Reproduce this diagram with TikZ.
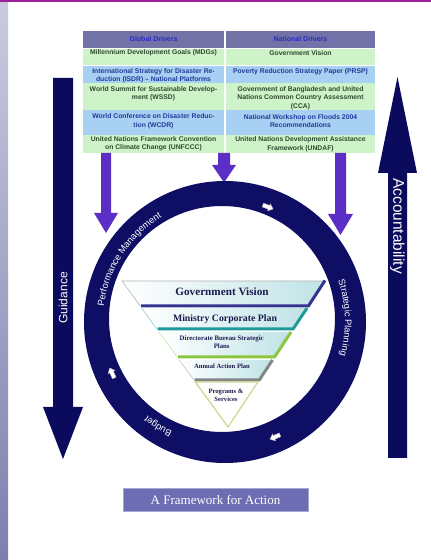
\documentclass[tikz,border=0pt]{standalone}
\usepackage{fontspec}
\setmainfont{Liberation Sans}
\newfontfamily\tnr{Liberation Serif}
\usetikzlibrary{decorations.text,calc}
\definecolor{navy}{HTML}{0B0B5E}
\definecolor{ringc}{HTML}{0E0E64}
\definecolor{drv}{HTML}{5B2FC6}
\definecolor{hdr}{HTML}{7272A6}
\definecolor{grn}{HTML}{CFF3C8}
\definecolor{blu}{HTML}{A8D0F2}
\definecolor{gtx}{HTML}{2E4A2E}
\definecolor{btx}{HTML}{1F3C99}
\definecolor{htx}{HTML}{2A2ACC}
\definecolor{lay1}{HTML}{34348F}
\definecolor{lay2}{HTML}{1E9A9A}
\definecolor{lay3}{HTML}{8CC63F}
\definecolor{lay4}{HTML}{858585}
\definecolor{lay5}{HTML}{C9D88C}
\definecolor{pyr}{HTML}{1B1B50}
\definecolor{fbox}{HTML}{6D6DB3}
\definecolor{topl}{HTML}{9C1F9C}
\definecolor{facel}{HTML}{BFE3E6}
\definecolor{stripet}{HTML}{CACADF}
\definecolor{stripeb}{HTML}{7F7FAE}
\newcommand\whitearrow[3]{%
  \begin{scope}[shift={(#1,#2)}, rotate=#3]
    \filldraw[fill=white, draw=gray!60, line width=0.4pt]
      (-5.5,-2) -- (1,-2) -- (1,-3.8) -- (5.5,0) -- (1,3.8) -- (1,2) -- (-5.5,2) -- cycle;
  \end{scope}}
\begin{document}
\begin{tikzpicture}[x=1pt,y=1pt,
  cellg/.style={font=\bfseries\fontsize{6.8}{8.5}\selectfont, text=gtx, align=center, inner sep=0pt},
  cellb/.style={font=\bfseries\fontsize{6.8}{8.5}\selectfont, text=btx, align=center, inner sep=0pt},
  cellh/.style={font=\bfseries\fontsize{7}{8.5}\selectfont, text=htx, align=center, inner sep=0pt},
  ptxt/.style={font=\tnr\bfseries, text=pyr, align=center, inner sep=0pt},
  bigtxt/.style={text=white, inner sep=0pt},
  ringtext/.style={decorate, decoration={text along path, text align=center, text color=white, text={|\fontsize{9.3}{9.3}\selectfont|#1}}}
]
\useasboundingbox (0,0) rectangle (431,560);
\fill[white] (0,0) rectangle (431,560);
% frame decorations
\fill[topl] (0,557.5) rectangle (431,560);
\shade[top color=stripet, bottom color=stripeb] (0,0) rectangle (8,557.5);

% table
\fill[hdr] (83,512) rectangle (224,529);
\fill[hdr] (226,512) rectangle (375,529);
\foreach \xa/\xb in {83/224,226/375}{
  \fill[grn] (\xa,495) rectangle (\xb,511);
  \fill[blu] (\xa,477) rectangle (\xb,494);
  \fill[grn] (\xa,450) rectangle (\xb,477);
  \fill[blu] (\xa,425) rectangle (\xb,450);
  \fill[grn] (\xa,407) rectangle (\xb,425);
}
\node[cellh] (hg) at (153.5,520.5) {Global Drivers};
\node[cellh] (hn) at (300.5,520.5) {National Drivers};
\node[cellg] (g1) at (153.5,507) {Millennium Development Goals (MDGs)};
\node[cellg] (n1) at (300.5,507) {Government Vision};
\node[cellb] (g2) at (153.5,484.5) {International Strategy for Disaster Re-\\duction (ISDR) – National Platforms};
\node[cellb] (n2) at (300.5,488) {Poverty Reduction Strategy Paper (PRSP)};
\node[cellg] (g3) at (153.5,466.5) {World Summit for Sustainable Develop-\\ment (WSSD)};
\node[cellg] (n3) at (300.5,462) {Government of Bangladesh and United\\Nations Common Country Assessment\\(CCA)};
\node[cellb] (g4) at (153.5,439) {World Conference on Disaster Reduc-\\tion (WCDR)};
\node[cellb] (n4) at (300.5,439) {National Workshop on Floods 2004\\Recommendations};
\node[cellg] (g5) at (153.5,416) {United Nations Framework Convention\\on Climate Change (UNFCCC)};
\node[cellg] (n5) at (300.5,416) {United Nations Development Assistance\\Framework (UNDAF)};

% driver arrows
\fill[drv] (101,407) -- (111,407) -- (111,347) -- (118,347) -- (106,327) -- (94,347) -- (101,347) -- cycle;
\fill[drv] (218,407) -- (230,407) -- (230,395) -- (236,395) -- (224,377.5) -- (212,395) -- (218,395) -- cycle;
\fill[drv] (335,407) -- (346,407) -- (346,346) -- (353,346) -- (340.5,325) -- (328,346) -- (335,346) -- cycle;

% big arrows
\fill[navy] (53,482) -- (73,482) -- (73,153) -- (83,153) -- (63,101) -- (43,153) -- (53,153) -- cycle;
\node[bigtxt, rotate=90, font=\fontsize{12}{12}\selectfont] (guid) at (63,262) {Guidance};
\fill[navy] (388,102) -- (407,102) -- (407,387) -- (417,387) -- (397.5,483) -- (378,387) -- (388,387) -- cycle;
\node[bigtxt, rotate=-90, font=\fontsize{15.5}{15.5}\selectfont] (acct) at (397.5,334) {Accountability};

% ring
\fill[ringc, even odd rule] (225,238) circle[radius=141] (222,241) circle[radius=113];
\coordinate (rc) at (224,239);
\path[ringtext={Performance Management}] ($(rc)+(179:121)$) arc[start angle=179, end angle=115, radius=121];
\path[ringtext={Strategic Planning}] ($(rc)+(22:121)$) arc[start angle=22, end angle=-19, radius=121];
\path[ringtext={Budget}] ($(rc)+(257:122)$) arc[start angle=257, end angle=219, radius=122];
\whitearrow{268}{353}{-21}
\whitearrow{112}{187}{114.5}
\whitearrow{275}{123}{-156}

% pyramid
\shade[left color=white, right color=facel] (122,279) -- (325,279) -- (308.4,254) -- (140.2,254) -- cycle;
\draw[gray!60, line width=0.6pt] (140.2,254) -- (122,279) -- (325,279);
\draw[lay1, line width=3pt] (141,254) -- (308.4,254) -- (325,279.5);

\shade[left color=white, right color=facel] (141.6,252) -- (307.1,252) -- (293.1,231) -- (156.8,231) -- cycle;
\draw[lay2!50, line width=0.6pt] (141.6,252) -- (156.8,231);
\draw[lay2, line width=3pt] (157.5,231) -- (293.1,231) -- (307.1,252);

\shade[left color=white, right color=facel] (159,228) -- (291.1,228) -- (274.5,203) -- (177.2,203) -- cycle;
\draw[lay3!50, line width=0.6pt] (159,228) -- (177.2,203);
\draw[lay3, line width=3pt] (178,203) -- (274.5,203) -- (291.1,228);

\shade[left color=white, right color=facel] (179.4,200) -- (272.5,200) -- (259.3,180) -- (193.9,180) -- cycle;
\draw[lay4!50, line width=0.6pt] (179.4,200) -- (193.9,180);
\draw[lay4, line width=3pt] (194.5,180) -- (259.3,180) -- (272.5,200);

\draw[lay5, line width=1.2pt, fill=white] (195.3,178) -- (257.9,178) -- (228,133) -- cycle;

\node[ptxt, font=\tnr\bfseries\fontsize{11.2}{12}\selectfont] (p1) at (222,268.3) {Government Vision};
\node[ptxt, font=\tnr\bfseries\fontsize{9.8}{11}\selectfont] (p2) at (225,241) {Ministry Corporate Plan};
\node[ptxt, font=\tnr\bfseries\fontsize{6.8}{8}\selectfont] (p3) at (221.7,217.5) {Directorate Bureau Strategic\\Plans};
\node[ptxt, font=\tnr\bfseries\fontsize{6.6}{8}\selectfont] (p4) at (222,193.3) {Annual Action Plan};
\node[ptxt, font=\tnr\bfseries\fontsize{6.6}{8}\selectfont] (p5) at (226,164.3) {Programs \&\\Services};

% bottom label
\node[fill=fbox, draw=fbox!60!white, line width=0.6pt, minimum width=185pt, minimum height=23pt, inner sep=0pt, text=white, font=\tnr\fontsize{13}{13}\selectfont] (fw) at (215.5,60.5) {A Framework for Action};
\end{tikzpicture}
\end{document}
